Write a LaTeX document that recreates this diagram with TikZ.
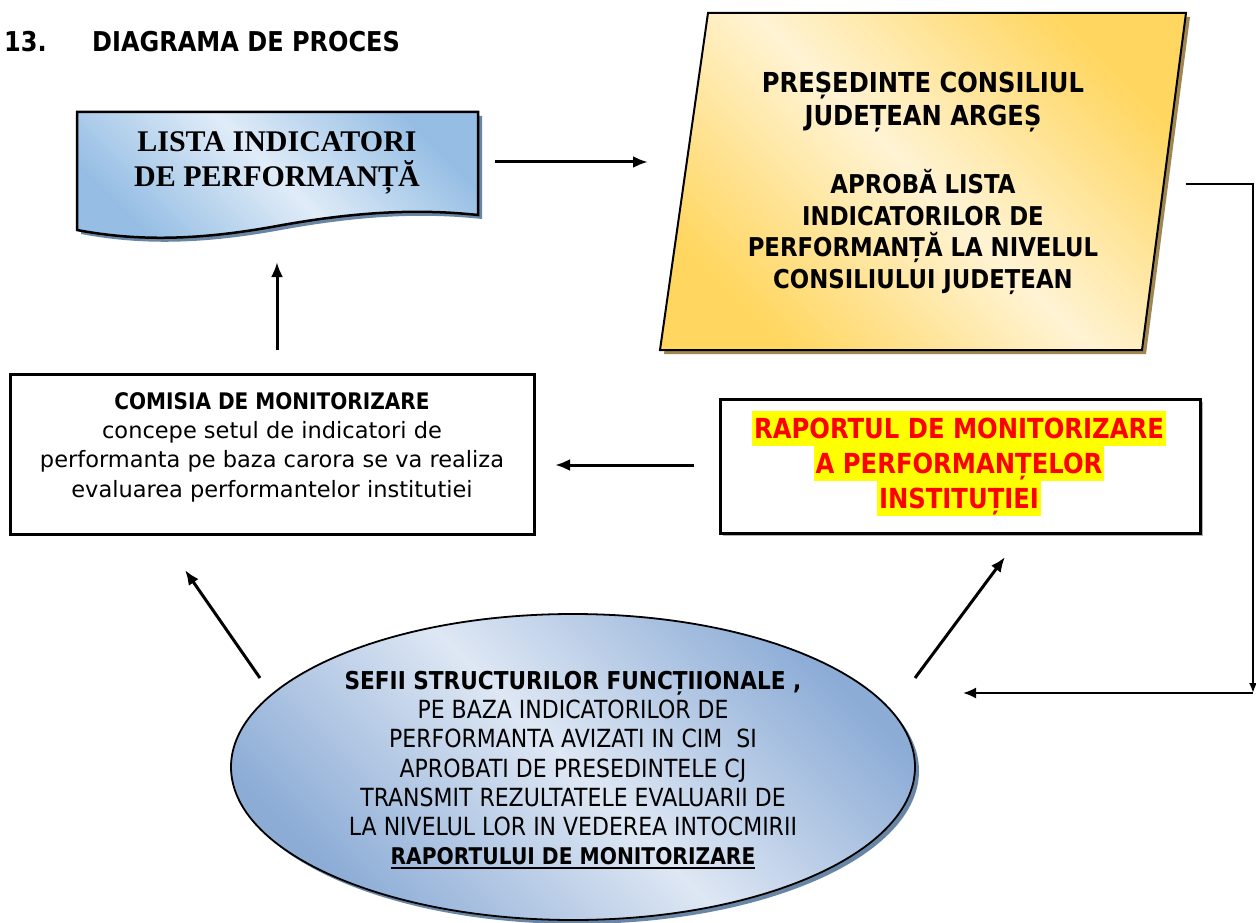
\documentclass[tikz,border=0pt]{standalone}
\usepackage{fontspec}
\usepackage{xcolor}
\usepackage{tikz}
\usetikzlibrary{arrows.meta,shapes.geometric}
\setmainfont{Liberation Serif}
\newfontfamily\tahc{DejaVu Sans}[FakeStretch=0.88]
\newfontfamily\tahn{DejaVu Sans}
\definecolor{docblue}{RGB}{150,190,228}
\definecolor{doclight}{RGB}{224,236,248}
\definecolor{docshade}{RGB}{105,135,165}
\definecolor{gold}{RGB}{255,214,95}
\definecolor{goldlight}{RGB}{255,243,212}
\definecolor{goldshade}{RGB}{160,135,80}
\definecolor{ellblue}{RGB}{140,172,214}
\definecolor{elllight}{RGB}{222,231,244}
\definecolor{hlyellow}{RGB}{255,255,0}
\setlength{\fboxsep}{0pt}
\newcommand{\hlline}[1]{\colorbox{hlyellow}{\rule[-7.5pt]{0pt}{35pt}\hspace{2pt}#1\hspace{2pt}}}
\newcommand{\ulbar}[1]{\setbox0\hbox{#1}\rlap{\rule[-4pt]{\wd0}{2pt}}\box0}

\begin{document}
\begin{tikzpicture}[x=1pt,y=-1pt,
  arr/.style={-{Latex[length=15pt,width=12pt]},line width=3pt},
  thin arr/.style={line width=2pt},
  box node/.style={draw,line width=3pt,inner sep=0pt},
  txt/.style={inner sep=0pt,align=center}]
  \useasboundingbox (0,0) rectangle (1256,923);
  \fill[white] (0,0) rectangle (1256,923);

  % title
  \node[txt,anchor=west] (t) at (4,42) {\tahc\bfseries\fontsize{27.3}{33}\selectfont\makebox[88pt][l]{13.}DIAGRAMA DE PROCES};

  % lista indicatori
  \fill[docshade,shift={(4,4)}] (77,112) -- (478,112) -- (478,215)
    .. controls (430,210) and (370,209) .. (277,226)
    .. controls (190,242) and (130,240) .. (77,230) -- cycle;
  \shadedraw[line width=2.5pt,left color=docblue,right color=docblue,middle color=doclight,shading angle=-45]
    (77,112) -- (478,112) -- (478,215)
    .. controls (430,210) and (370,209) .. (277,226)
    .. controls (190,242) and (130,240) .. (77,230) -- cycle;
  \node[txt,font=\bfseries\fontsize{30}{35}\selectfont] (0) at (277,163) {LISTA INDICATORI\\DE PERFORMANȚĂ};

  % presedinte
  \fill[goldshade,shift={(4,4)}] (708,13) -- (1186,13) -- (1142,350) -- (660,350) -- cycle;
  \shadedraw[line width=2pt,left color=gold,right color=gold,middle color=goldlight,shading angle=-45]
    (708,13) -- (1186,13) -- (1142,350) -- (660,350) -- cycle;
  \node[txt,font=\tahc\bfseries\fontsize{27.5}{33}\selectfont] (1) at (923,102) {PREȘEDINTE CONSILIUL\\JUDEȚEAN ARGEȘ};
  \node[txt,font=\tahc\bfseries\fontsize{25.9}{31.4}\selectfont] (1b) at (923,232) {APROBĂ LISTA\\INDICATORILOR DE\\PERFORMANȚĂ LA NIVELUL\\CONSILIULUI JUDEȚEAN};

  % comisia
  \node[box node,minimum width=524pt,minimum height=160pt] (2) at (272,454) {};
  \node[txt,font=\tahn\fontsize{22.5}{29.3}\selectfont] (2t) at (272,447)
    {{\tahc\bfseries\fontsize{22.8}{29.3}\selectfont COMISIA DE MONITORIZARE}\\concepe setul de indicatori de\\performanta pe baza carora se va realiza\\evaluarea performantelor institutiei};

  % raport
  \fill[gray!60] (723,402) rectangle (1203,536);
  \node[box node,fill=white,minimum width=480pt,minimum height=134pt] (3) at (960,466) {};
  \node[txt,text=red,font=\tahc\bfseries\fontsize{27.6}{35}\selectfont] (3t) at (959,463)
    {\hlline{RAPORTUL DE MONITORIZARE}\\\hlline{A PERFORMANȚELOR}\\\hlline{INSTITUȚIEI}};

  % sefii structurilor
  \fill[docshade] (577,771) ellipse [x radius=342pt,y radius=153pt];
  \node[ellipse,draw,line width=1.8pt,inner sep=0pt,minimum width=684pt,minimum height=306pt,
    left color=ellblue,right color=ellblue,middle color=elllight,shading angle=-45] (4) at (573,767) {};
  \node[txt,font=\tahc\fontsize{25}{29.2}\selectfont] (4t) at (573,770)
    {{\bfseries\fontsize{24.6}{29.2}\selectfont SEFII STRUCTURILOR FUNCȚIIONALE ,}\\
     PE BAZA INDICATORILOR DE\\
     PERFORMANTA AVIZATI IN CIM\ \ SI\\
     APROBATI DE PRESEDINTELE CJ\\
     TRANSMIT REZULTATELE EVALUARII DE\\
     LA NIVELUL LOR IN VEDEREA INTOCMIRII\\
     {\bfseries\fontsize{23}{29.2}\selectfont\ulbar{RAPORTULUI DE MONITORIZARE}}};

  % arrow ends
  \coordinate (a0) at (495,162);
  \coordinate (b1) at (648,162);
  \coordinate (a2) at (277,350);
  \coordinate (b0) at (277,262);
  \coordinate (a3) at (694,465);
  \coordinate (b2) at (555,465);
  \coordinate (a4) at (260,678);
  \coordinate (c2) at (185,570);
  \coordinate (e4) at (915,678);
  \coordinate (c3) at (1005,557);
  \coordinate (r1) at (1186,184);
  \coordinate (k) at (1253,693);
  \coordinate (d4) at (963,693);

  \path[every edge/.style={draw,arr}]
  (a0) edge (b1)
  (a2) edge (b0)
  (a3) edge (b2)
  (a4) edge (c2)
  (e4) edge (c3);
  \draw[thin arr,-{Latex[length=10pt,width=8pt]}] (r1) -| (k);
  \draw[thin arr,-{Latex[length=13pt,width=11pt]}] (k) -- (d4);
\end{tikzpicture}
\end{document}
